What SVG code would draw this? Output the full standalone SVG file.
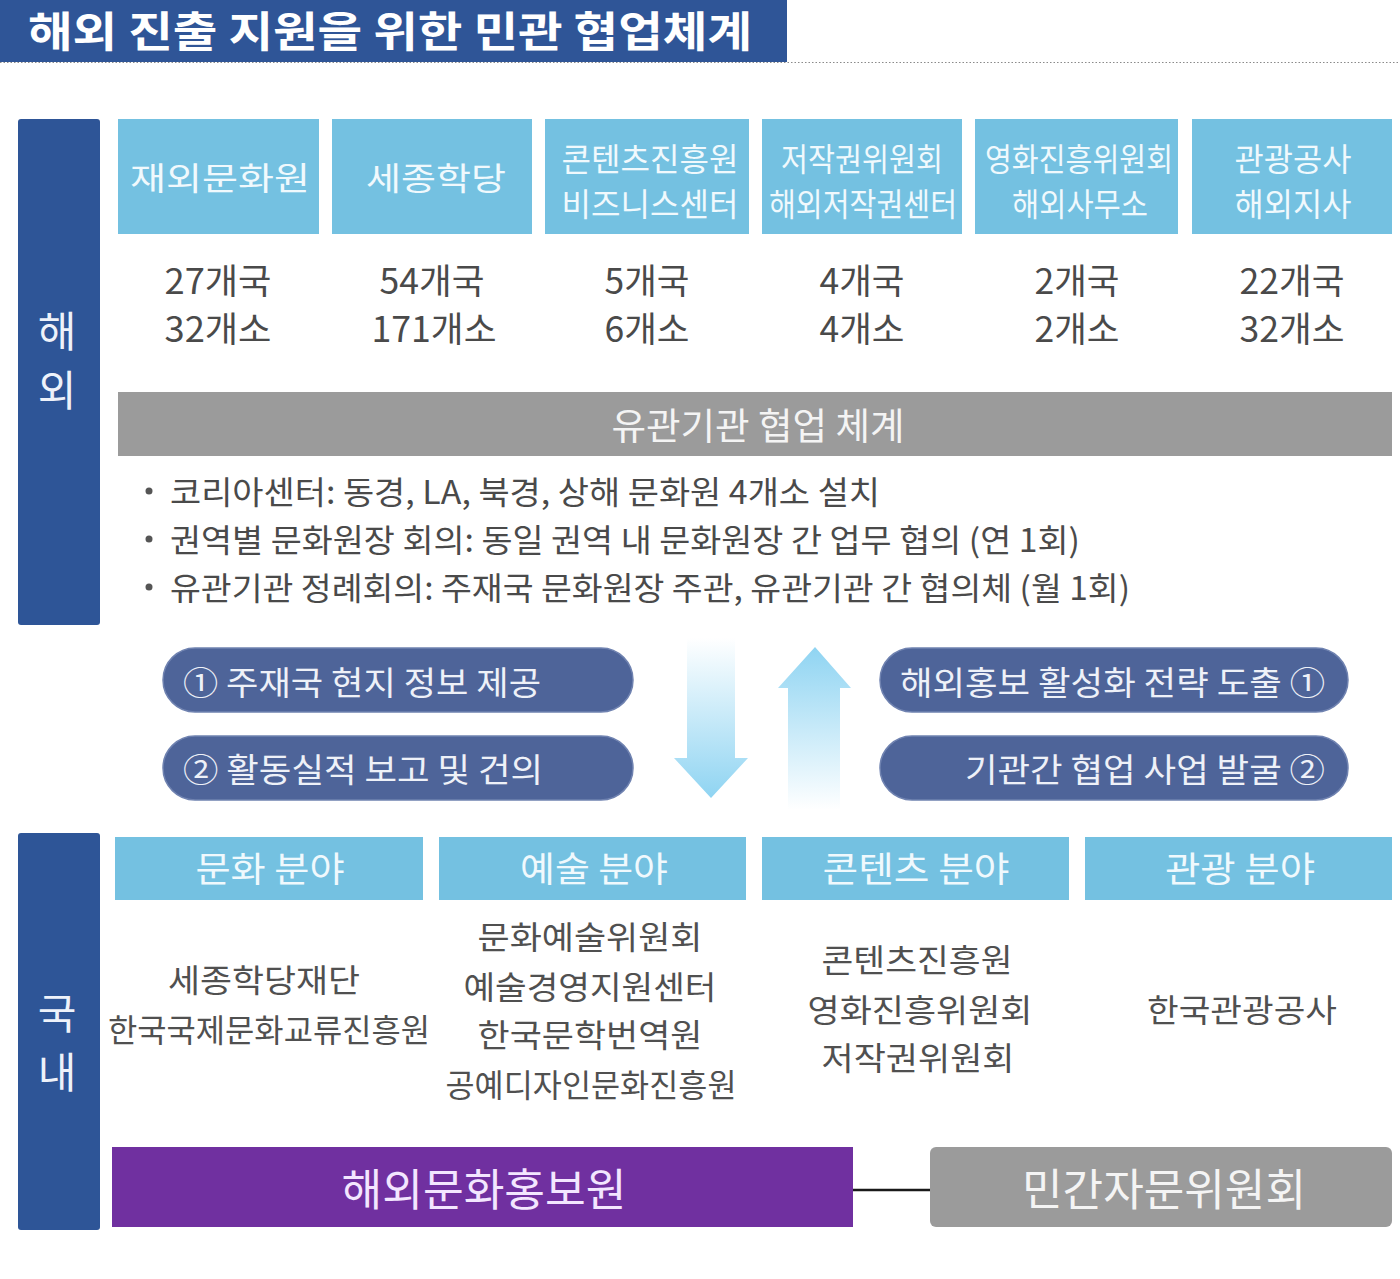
<svg xmlns="http://www.w3.org/2000/svg" width="1400" height="1279" viewBox="0 0 1400 1279">
<defs>
<linearGradient id="gDown" x1="0" y1="0" x2="0" y2="1">
<stop offset="0" stop-color="#ffffff"/>
<stop offset="1" stop-color="#8fd4f2"/>
</linearGradient>
<linearGradient id="gUp" x1="0" y1="0" x2="0" y2="1">
<stop offset="0" stop-color="#8fd4f2"/>
<stop offset="1" stop-color="#ffffff"/>
</linearGradient>
<style>
text{font-family:"Noto Sans CJK KR","Noto Sans",sans-serif;dominant-baseline:central;}
.c{text-anchor:middle;}
.side{fill:#2e5597;}
.sidet{fill:#eef2fa;font-size:42px;}
.lb{fill:#74c1e1;}
.lbt{fill:#f0f9fd;font-size:32px;text-anchor:middle;}
.num{fill:#4a4a4a;font-size:35px;text-anchor:middle;}
.bul{fill:#4a4a4a;font-size:32px;}
.pill{fill:#4e6499;stroke:#6f82b0;stroke-width:1.5;}
.pillt{fill:#eef1f8;font-size:33px;}
.cat{fill:#f0f9fd;font-size:35px;text-anchor:middle;}
.org{fill:#505050;font-size:32px;text-anchor:middle;}
.big{font-size:44px;text-anchor:middle;}
</style>
</defs>
<rect width="1400" height="1279" fill="#ffffff"/>

<g id="title">
<rect x="0" y="0" width="787" height="62" fill="#2f5597"/>
<line x1="0" y1="62.5" x2="1400" y2="62.5" stroke="#8a8a8a" stroke-width="1.2" stroke-dasharray="1.5 2"/>
<text x="28" y="28" font-size="42" font-weight="bold" fill="#ffffff" textLength="724" lengthAdjust="spacingAndGlyphs">해외 진출 지원을 위한 민관 협업체계</text>
</g>

<g id="side-overseas">
<rect class="side" x="18" y="119" width="82" height="506" rx="3"/>
<text class="sidet c" x="57" y="328">해</text>
<text class="sidet c" x="57" y="387">외</text>
</g>

<g id="org-1">
<rect class="lb" x="118" y="119" width="201" height="115"/>
<text class="lbt" x="220" y="176" font-size="35" textLength="180" lengthAdjust="spacingAndGlyphs">재외문화원</text>
<text class="num" x="218" y="278" textLength="107" lengthAdjust="spacingAndGlyphs">27개국</text>
<text class="num" x="218" y="326" textLength="107" lengthAdjust="spacingAndGlyphs">32개소</text>
</g>
<g id="org-2">
<rect class="lb" x="332" y="119" width="200" height="115"/>
<text class="lbt" x="436" y="176" font-size="35" textLength="140" lengthAdjust="spacingAndGlyphs">세종학당</text>
<text class="num" x="432" y="278" textLength="105" lengthAdjust="spacingAndGlyphs">54개국</text>
<text class="num" x="434" y="326" textLength="125" lengthAdjust="spacingAndGlyphs">171개소</text>
</g>
<g id="org-3">
<rect class="lb" x="545" y="119" width="204" height="115"/>
<text class="lbt" x="650" y="157" textLength="177" lengthAdjust="spacingAndGlyphs">콘텐츠진흥원</text>
<text class="lbt" x="650" y="202" textLength="177" lengthAdjust="spacingAndGlyphs">비즈니스센터</text>
<text class="num" x="647" y="278" textLength="85" lengthAdjust="spacingAndGlyphs">5개국</text>
<text class="num" x="647" y="326" textLength="85" lengthAdjust="spacingAndGlyphs">6개소</text>
</g>
<g id="org-4">
<rect class="lb" x="762" y="119" width="200" height="115"/>
<text class="lbt" x="862" y="157" textLength="162" lengthAdjust="spacingAndGlyphs">저작권위원회</text>
<text class="lbt" x="863" y="202" textLength="188" lengthAdjust="spacingAndGlyphs">해외저작권센터</text>
<text class="num" x="862" y="278" textLength="85" lengthAdjust="spacingAndGlyphs">4개국</text>
<text class="num" x="862" y="326" textLength="85" lengthAdjust="spacingAndGlyphs">4개소</text>
</g>
<g id="org-5">
<rect class="lb" x="975" y="119" width="203" height="115"/>
<text class="lbt" x="1079" y="157" textLength="188" lengthAdjust="spacingAndGlyphs">영화진흥위원회</text>
<text class="lbt" x="1080" y="202" textLength="136" lengthAdjust="spacingAndGlyphs">해외사무소</text>
<text class="num" x="1077" y="278" textLength="85" lengthAdjust="spacingAndGlyphs">2개국</text>
<text class="num" x="1077" y="326" textLength="85" lengthAdjust="spacingAndGlyphs">2개소</text>
</g>
<g id="org-6">
<rect class="lb" x="1192" y="119" width="200" height="115"/>
<text class="lbt" x="1293" y="157" textLength="117" lengthAdjust="spacingAndGlyphs">관광공사</text>
<text class="lbt" x="1293" y="202" textLength="117" lengthAdjust="spacingAndGlyphs">해외지사</text>
<text class="num" x="1292" y="278" textLength="105" lengthAdjust="spacingAndGlyphs">22개국</text>
<text class="num" x="1292" y="326" textLength="105" lengthAdjust="spacingAndGlyphs">32개소</text>
</g>

<g id="cooperation">
<rect x="118" y="392" width="1274" height="64" fill="#9b9b9b"/>
<text x="758" y="424" font-size="37" fill="#f4f4f4" text-anchor="middle" textLength="293" lengthAdjust="spacingAndGlyphs">유관기관 협업 체계</text>
<circle cx="149" cy="491" r="3.5" fill="#555"/>
<circle cx="149" cy="539" r="3.5" fill="#555"/>
<circle cx="149" cy="587" r="3.5" fill="#555"/>
<text class="bul" x="170" y="490" textLength="710" lengthAdjust="spacingAndGlyphs">코리아센터: 동경, LA, 북경, 상해 문화원 4개소 설치</text>
<text class="bul" x="170" y="538" textLength="910" lengthAdjust="spacingAndGlyphs">권역별 문화원장 회의: 동일 권역 내 문화원장 간 업무 협의 (연 1회)</text>
<text class="bul" x="170" y="586" textLength="960" lengthAdjust="spacingAndGlyphs">유관기관 정례회의: 주재국 문화원장 주관, 유관기관 간 협의체 (월 1회)</text>
</g>

<g id="pill-l1">
<rect class="pill" x="163" y="648" width="470" height="64" rx="32"/>
<text class="pillt" x="183" y="681" textLength="358" lengthAdjust="spacingAndGlyphs">① 주재국 현지 정보 제공</text>
</g>
<g id="pill-l2">
<rect class="pill" x="163" y="736" width="470" height="64" rx="32"/>
<text class="pillt" x="183" y="768" textLength="360" lengthAdjust="spacingAndGlyphs">② 활동실적 보고 및 건의</text>
</g>
<g id="pill-r1">
<rect class="pill" x="880" y="648" width="468" height="64" rx="32"/>
<text class="pillt" x="1325" y="681" text-anchor="end" textLength="425" lengthAdjust="spacingAndGlyphs">해외홍보 활성화 전략 도출 ①</text>
</g>
<g id="pill-r2">
<rect class="pill" x="880" y="736" width="468" height="64" rx="32"/>
<text class="pillt" x="1325" y="768" text-anchor="end" textLength="360" lengthAdjust="spacingAndGlyphs">기관간 협업 사업 발굴 ②</text>
</g>

<g id="connectors">
<polygon points="687,638 735,638 735,758 748,758 711,798 674,758 687,758" fill="url(#gDown)"/>
<polygon points="815,647 851,688 840,688 840,810 788,810 788,688 778,688" fill="url(#gUp)"/>
<line x1="853" y1="1190" x2="930" y2="1190" stroke="#1a1a1a" stroke-width="2.5"/>
</g>

<g id="side-domestic">
<rect class="side" x="18" y="833" width="82" height="397" rx="3"/>
<text class="sidet c" x="57" y="1010">국</text>
<text class="sidet c" x="57" y="1069">내</text>
</g>

<g id="field-culture">
<rect class="lb" x="115" y="837" width="308" height="63"/>
<text class="cat" x="270" y="866" textLength="149" lengthAdjust="spacingAndGlyphs">문화 분야</text>
<text class="org" x="264" y="978" textLength="192" lengthAdjust="spacingAndGlyphs">세종학당재단</text>
<text class="org" x="269" y="1028" textLength="322" lengthAdjust="spacingAndGlyphs">한국국제문화교류진흥원</text>
</g>
<g id="field-arts">
<rect class="lb" x="439" y="837" width="307" height="63"/>
<text class="cat" x="594" y="866" textLength="148" lengthAdjust="spacingAndGlyphs">예술 분야</text>
<text class="org" x="590" y="935" textLength="225" lengthAdjust="spacingAndGlyphs">문화예술위원회</text>
<text class="org" x="590" y="985" textLength="253" lengthAdjust="spacingAndGlyphs">예술경영지원센터</text>
<text class="org" x="590" y="1033" textLength="225" lengthAdjust="spacingAndGlyphs">한국문학번역원</text>
<text class="org" x="591" y="1083" textLength="291" lengthAdjust="spacingAndGlyphs">공예디자인문화진흥원</text>
</g>
<g id="field-content">
<rect class="lb" x="762" y="837" width="307" height="63"/>
<text class="cat" x="916" y="866" textLength="187" lengthAdjust="spacingAndGlyphs">콘텐츠 분야</text>
<text class="org" x="917" y="958" textLength="191" lengthAdjust="spacingAndGlyphs">콘텐츠진흥원</text>
<text class="org" x="920" y="1008" textLength="225" lengthAdjust="spacingAndGlyphs">영화진흥위원회</text>
<text class="org" x="918" y="1056" textLength="193" lengthAdjust="spacingAndGlyphs">저작권위원회</text>
</g>
<g id="field-tourism">
<rect class="lb" x="1085" y="837" width="307" height="63"/>
<text class="cat" x="1240" y="866" textLength="150" lengthAdjust="spacingAndGlyphs">관광 분야</text>
<text class="org" x="1242" y="1008" textLength="190" lengthAdjust="spacingAndGlyphs">한국관광공사</text>
</g>

<g id="kocis">
<rect x="112" y="1147" width="741" height="80" fill="#7030a0"/>
<text class="big" x="484" y="1187" fill="#f3e6ff" textLength="285" lengthAdjust="spacingAndGlyphs">해외문화홍보원</text>
</g>
<g id="advisory">
<rect x="930" y="1147" width="462" height="80" rx="6" fill="#9b9b9b"/>
<text class="big" x="1164" y="1187" fill="#f4f4f4" textLength="284" lengthAdjust="spacingAndGlyphs">민간자문위원회</text>
</g>
</svg>
